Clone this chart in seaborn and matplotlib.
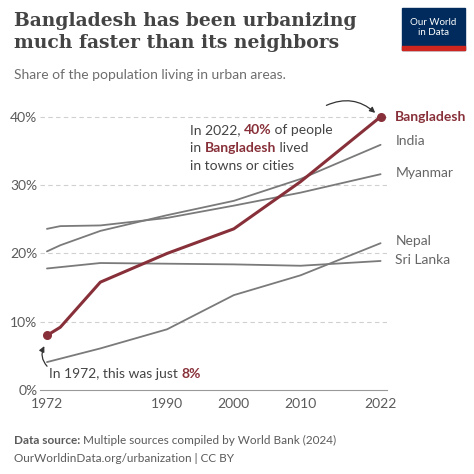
import matplotlib
matplotlib.use("Agg")
import matplotlib.pyplot as plt
import seaborn as sns
import pandas as pd
from matplotlib.patches import Rectangle, FancyArrowPatch

years = [1972, 1974, 1980, 1990, 2000, 2010, 2022]
bangladesh = [8.0, 9.2, 15.8, 20.0, 23.6, 30.5, 40.0]
india = [20.3, 21.2, 23.3, 25.6, 27.7, 30.9, 35.9]
myanmar = [23.6, 24.0, 24.1, 25.2, 27.0, 28.9, 31.6]
nepal = [4.1, 4.6, 6.1, 8.9, 13.9, 16.8, 21.5]
srilanka = [17.8, 18.0, 18.6, 18.5, 18.4, 18.2, 18.9]
yticks = [0, 10, 20, 30, 40]
xticks = [1972, 1990, 2000, 2010, 2022]

df = pd.DataFrame({"year": years * 5,
                   "value": bangladesh + india + myanmar + nepal + srilanka,
                   "country": ["Bangladesh"] * 7 + ["India"] * 7 + ["Myanmar"] * 7 + ["Nepal"] * 7 + ["Sri Lanka"] * 7})

sns.set_style("white")
plt.rcParams['font.family'] = ['Lato', 'DejaVu Sans']
fig = plt.figure(figsize=(4.74, 4.74), dpi=100)
ax = fig.add_axes([0.085, 0.177, 0.732, 0.591])
pal = {"India": "#7a7a7a", "Myanmar": "#7a7a7a", "Nepal": "#7a7a7a", "Sri Lanka": "#7a7a7a"}
others = df[df.country != "Bangladesh"]
sns.lineplot(data=others, x="year", y="value", hue="country", palette=pal, lw=1.3, legend=False, ax=ax)
sns.lineplot(data=df[df.country == "Bangladesh"], x="year", y="value", color="#883039", lw=2.2, ax=ax)
ax.scatter([years[0], years[-1]], [bangladesh[0], bangladesh[-1]], color="#883039", s=30, zorder=5)
ax.set_xlim(1971, 2023)
ax.set_ylim(0, 41)
ax.set_yticks(yticks)
ax.set_yticklabels([f"{v}%" for v in yticks], color="#5b5b5b", fontsize=10)
ax.set_xticks(xticks)
ax.set_xticklabels([str(v) for v in xticks], color="#5b5b5b", fontsize=10)
ax.set_xlabel(""); ax.set_ylabel("")
for y in yticks[1:]:
    ax.axhline(y, color="#d0d0d0", lw=0.8, ls=(0, (4, 3)), zorder=0)
for s in ["top", "right", "left"]:
    ax.spines[s].set_visible(False)
ax.spines["bottom"].set_color("#999999")
ax.tick_params(axis="x", length=4, color="#999999", pad=2)
ax.tick_params(axis="y", length=0, pad=2)

lab = dict(fontsize=10, va="center", clip_on=False)
ax.text(2024.2, 40, "Bangladesh", color="#883039", fontweight="bold", **lab)
ax.text(2024.2, 36.5, "India", color="#666666", **lab)
ax.text(2024.2, 31.8, "Myanmar", color="#666666", **lab)
ax.text(2024.2, 21.8, "Nepal", color="#666666", **lab)
ax.text(2024.2, 19.0, "Sri Lanka", color="#666666", **lab)

def rich(x, y, parts):
    prev = None
    for s, c, w in parts:
        if prev is None:
            prev = ax.text(x, y, s, color=c, fontweight=w, fontsize=10, va="center", zorder=6)
        else:
            prev = ax.annotate(s, xy=(1, 0), xycoords=prev, va="bottom", ha="left",
                               color=c, fontweight=w, fontsize=10, zorder=6)

rich(1993.4, 38.1, [("In 2022, ", "#444444", "normal"), ("40%", "#883039", "bold"), (" of people", "#444444", "normal")])
rich(1993.4, 35.5, [("in ", "#444444", "normal"), ("Bangladesh", "#883039", "bold"), (" lived", "#444444", "normal")])
rich(1993.4, 32.8, [("in towns or cities", "#444444", "normal")])
rich(1972.3, 2.3, [("In 1972, this was just ", "#444444", "normal"), ("8%", "#883039", "bold")])

ax.add_patch(FancyArrowPatch((2013.5, 41.5), (2021.5, 40.3), connectionstyle="arc3,rad=-0.35",
                             arrowstyle="-|>", mutation_scale=8, color="#333333", lw=0.9, clip_on=False))
ax.add_patch(FancyArrowPatch((1972.3, 3.2), (1971.8, 6.8), connectionstyle="arc3,rad=-0.4",
                             arrowstyle="-|>", mutation_scale=8, color="#333333", lw=0.9, clip_on=False))

fig.text(0.03, 0.975, "Bangladesh has been urbanizing\nmuch faster than its neighbors", fontsize=13.5, fontweight="bold",
         family=["DejaVu Serif"], color="#444444", va="top", linespacing=1.3)
fig.text(0.03, 0.855, "Share of the population living in urban areas.", fontsize=10, color="#6e6e6e", va="top")
fig.text(0.03, 0.07, "Data source:", fontsize=8.5, fontweight="bold", color="#5b5b5b", va="center")
fig.text(0.175, 0.07, "Multiple sources compiled by World Bank (2024)", fontsize=8.5, color="#5b5b5b", va="center")
fig.text(0.03, 0.032, "OurWorldinData.org/urbanization | CC BY", fontsize=8.5, color="#5b5b5b", va="center")
fig.patches.append(Rectangle((0.848, 0.895), 0.133, 0.088, transform=fig.transFigure, color="#002b5c", figure=fig))
fig.patches.append(Rectangle((0.848, 0.895), 0.133, 0.008, transform=fig.transFigure, color="#ce261e", figure=fig))
fig.text(0.9145, 0.942, "Our World\nin Data", color="white", fontsize=7, ha="center", va="center", linespacing=1.1)
fig.savefig("out.png", dpi=100)
